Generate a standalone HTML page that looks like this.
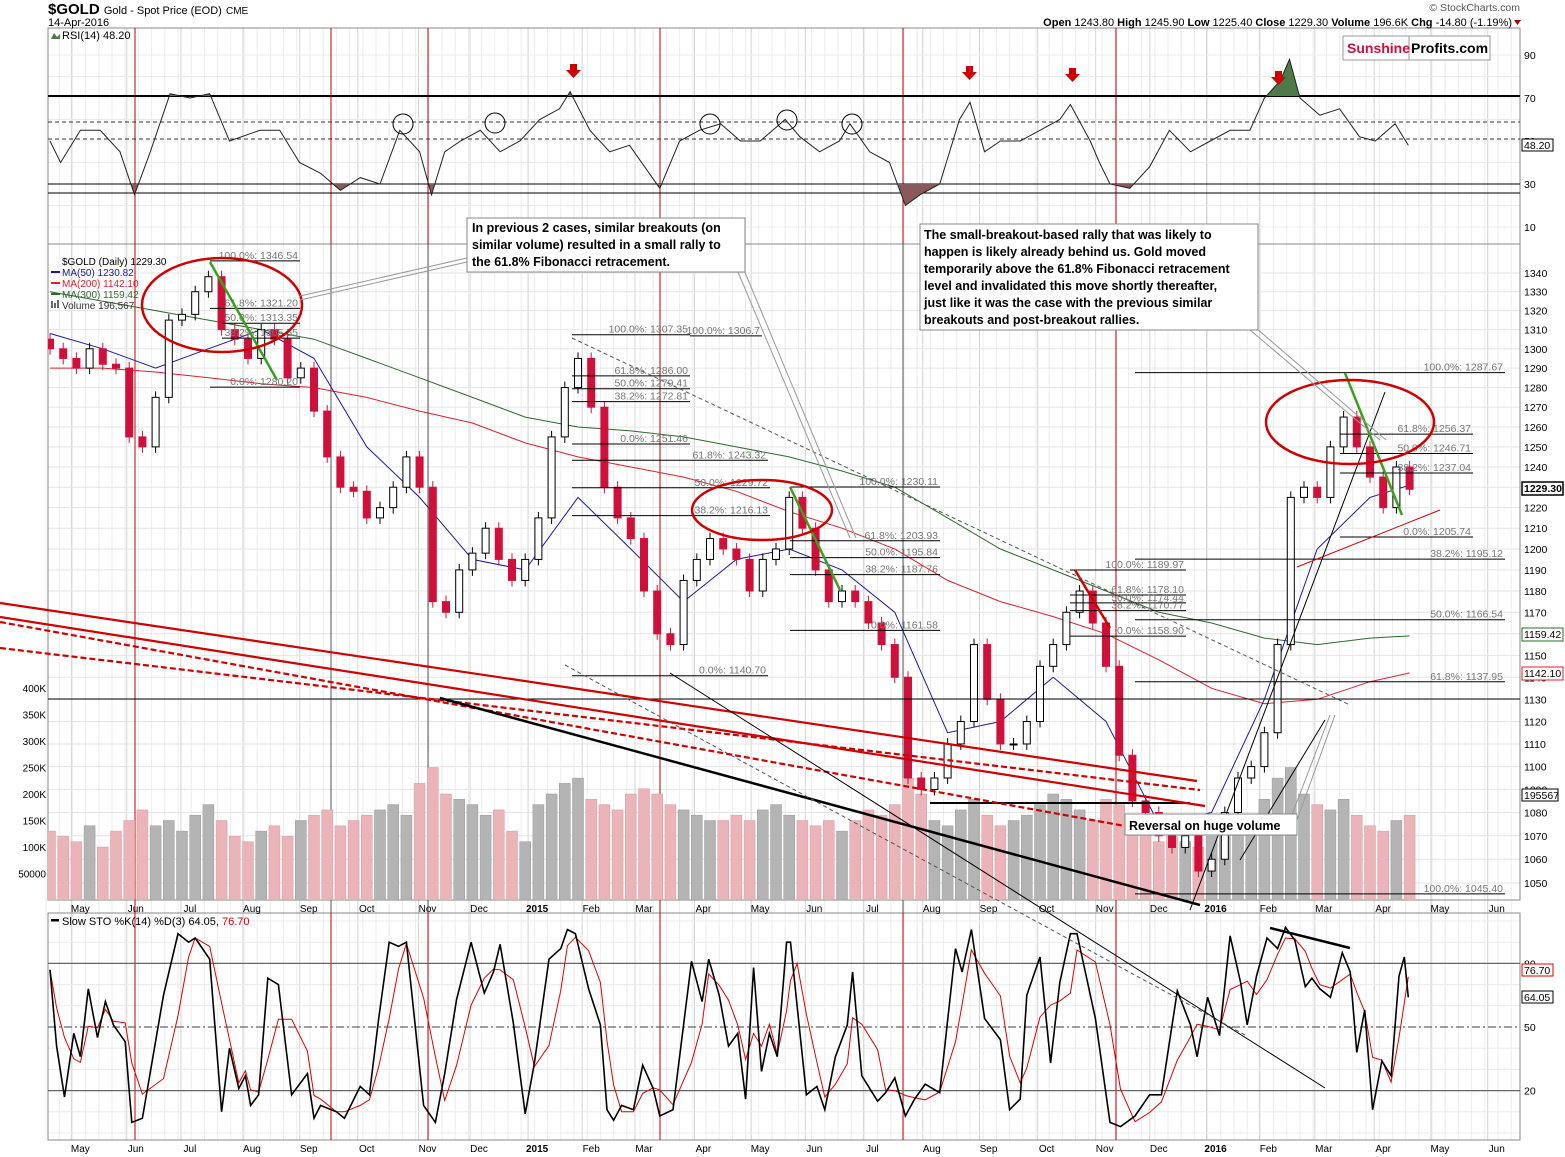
<!DOCTYPE html>
<html><head><meta charset="utf-8"><title>$GOLD chart</title>
<style>
html,body{margin:0;padding:0;background:#fff;}
svg{display:block;font-family:"Liberation Sans",Arial,sans-serif;}
.ann{font-weight:bold;font-size:12.5px;fill:#000;}
</style></head>
<body>
<svg id="chart" width="1565" height="1157" viewBox="0 0 1565 1157" xmlns="http://www.w3.org/2000/svg">
<defs>
<clipPath id="clipPrice"><rect x="48" y="244" width="1472" height="656"/></clipPath>
<clipPath id="clipSto"><rect x="48" y="913" width="1472" height="227"/></clipPath>
<clipPath id="rsiLow"><rect x="48" y="184" width="1472" height="60"/></clipPath>
<clipPath id="rsiHigh"><rect x="48" y="28" width="1472" height="68"/></clipPath>
</defs>
<g id="grid"></g>
<g id="vol" clip-path="url(#clipPrice)"></g>
<g id="price" clip-path="url(#clipPrice)"></g>
<g id="rsi"></g>
<g id="sto" clip-path="url(#clipSto)"></g>
<g id="ann"></g>
<g id="labels"></g>
</svg>
<script>
// ---------------- DATA ----------------
const weekCloses = [1300,1295,1290,1300,1292,1290,1255,1250,1275,1315,1318,1330,1338,1310,1305,1295,1310,1305,1285,1290,
1268,1245,1230,1228,1215,1220,1230,1245,1230,1175,1170,1190,1198,1210,1195,1185,1195,1215,1255,1280,
1295,1270,1230,1215,1205,1180,1160,1155,1185,1195,1205,1200,1195,1180,1195,1200,1225,1210,1190,1175,
1180,1175,1165,1155,1140,1095,1090,1095,1110,1120,1155,1130,1110,1110,1120,1145,1155,1170,1180,1165,
1145,1105,1085,1080,1070,1065,1070,1055,1060,1080,1095,1100,1115,1155,1225,1230,1225,1250,1265,1250,
1235,1220,1240,1229];
const firstOpen = 1305;
const weekVolumesK = [130,120,110,140,100,130,150,170,140,150,130,160,180,
150,120,110,130,140,120,150,160,170,140,150,160,170,
180,160,220,250,200,190,180,160,170,130,110,180,200,
220,230,190,180,170,200,210,200,180,170,160,150,150,
160,150,170,180,160,150,140,150,130,150,170,160,180,
230,200,150,140,170,190,160,140,150,160,180,200,190,
170,150,190,180,160,130,110,120,110,100,120,150,140,
160,190,230,250,200,180,170,190,160,140,130,150,160];
const ma50 = [1308,1300,1290,1300,1310,1295,1250,1225,1195,1190,1225,1200,1175,1195,1200,1190,1170,1115,1120,1140,1120,1075,1080,1130,1200,1225,1231];
const ma200 = [1290,1290,1288,1285,1282,1280,1275,1268,1262,1252,1245,1240,1235,1228,1218,1210,1200,1185,1175,1168,1160,1148,1135,1128,1130,1138,1142];
const ma300 = [1330,1325,1320,1315,1310,1305,1295,1285,1275,1265,1260,1258,1255,1250,1245,1238,1230,1215,1200,1190,1180,1170,1165,1158,1155,1158,1159];
const rsiWeeks = [0,.8,2.3,3.8,5.3,6.4,7.6,9.1,10.6,12.1,13.6,15.9,17.4,18.9,20.5,22,23.5,25,26.5,28,28.9,29.9,31.1,32.6,34.1,35.6,37.1,38.6,39.4,40.9,42.4,43.9,46.2,47.7,49.2,50.8,52.3,53.8,55.7,56.8,58.3,59.8,60.6,62.1,63.6,64.8,65.9,67.4,68.9,69.7,70.8,72,73.5,75,76.5,77.3,78.8,79.5,80.3,81.8,83.3,84.8,86.4,87.9,89.4,90.9,92,93.2,93.9,94.7,96.2,97.7,99.2,100.4,101.9,102.9];
const rsiValues = [50,40,55,55,45,25,45,72,70,72,50,55,55,40,35,27,33,30,55,45,25,45,50,55,45,50,60,65,73,55,45,48,28,50,55,58,50,50,60,52,45,50,58,45,40,20,25,30,60,68,45,50,50,55,60,67,50,40,30,28,38,55,45,50,55,55,70,78,88,70,62,65,52,50,58,48];
const stoWeeks = [0,.5,1.1,1.8,2.3,2.9,3.6,4.2,4.8,5.7,6.2,7.0,8.6,9.7,10.5,11.0,12.1,13.0,13.6,14.3,14.8,15.2,15.8,16.5,17.3,18.3,19.5,20.0,20.5,21.7,22.3,23.5,24.2,24.9,25.7,26.4,27.0,28.3,29.2,29.9,30.8,31.9,32.9,33.6,34.1,35.1,36.0,36.7,37.8,38.7,39.2,39.8,40.8,41.7,42.2,42.7,43.3,44.2,44.9,45.7,46.2,47.2,48.6,49.4,49.9,50.7,51.4,52.1,52.7,53.3,53.9,54.5,55.1,55.8,56.1,56.6,57.3,58.1,58.7,59.5,60.4,60.8,61.5,62.7,63.3,64.0,64.8,65.5,66.3,67.4,68.6,69.1,69.8,70.8,72.0,72.7,73.5,74.0,75.0,75.8,76.5,77.3,77.8,79.2,80.3,81.1,82.2,83.3,84.2,85.4,86.4,86.9,87.7,88.6,89.4,90.2,90.7,91.4,92.2,93.0,93.6,94.3,95.1,95.6,96.2,97.0,97.9,98.5,99.0,99.6,100.2,100.9,101.6,102.2,102.6,102.9];
const stoValues = [77,41,17,47,36,68,45,62,51,43,5,7,65,94,90,92,82,10,40,21,27,13,18,73,70,18,28,7,13,10,7,22,18,54,90,88,90,13,5,28,63,90,66,76,89,52,9,33,82,87,96,94,68,51,11,6,13,11,32,21,8,11,81,62,82,65,41,47,16,78,29,47,36,90,90,60,18,22,11,36,51,76,27,15,19,26,8,16,23,19,87,76,96,54,44,11,16,65,83,33,71,94,94,54,5,3,8,18,18,67,51,36,64,46,93,71,51,74,92,87,97,91,69,73,68,64,85,76,38,58,11,34,27,74,83,64];
const priceTicks = [1340,1330,1320,1310,1300,1290,1280,1270,1260,1250,1240,1220,1210,1200,1190,1180,1170,1150,1140,1130,1120,1110,1100,1090,1080,1070,1060,1050];
const volTicks = [400,350,300,250,200,150,100,50];
const rsiTicks = [90,70,50,30,10];
const stoTicks = [80,50,20];
const monthLabels = ["May","Jun","Jul","Aug","Sep","Oct","Nov","Dec","2015","Feb","Mar","Apr","May","Jun","Jul","Aug","Sep","Oct","Nov","Dec","2016","Feb","Mar","Apr","May","Jun"];
const monthWeeks = [2.3,6.5,10.6,15.3,19.6,24,28.6,32.5,36.9,41,45,49.5,53.8,57.9,62.3,66.8,71.1,75.5,79.9,84,88.3,92.3,96.5,101,105.3,109.6];
const fibLevels = [
 [1346.54,"100.0%: 1346.54",210,300,"r"],[1321.20,"61.8%: 1321.20",210,300,"r"],[1313.35,"50.0%: 1313.35",222,300,"r"],[1305.55,"38.2%: 1305.55",222,300,"r"],[1280.20,"0.0%: 1280.20",210,300,"r"],
 [1307.35,"100.0%: 1307.35",572,690,"r"],[1306.7,"100.0%: 1306.7",690,762,"r"],[1286.00,"61.8%: 1286.00",572,690,"r"],[1279.41,"50.0%: 1279.41",572,690,"r"],[1272.81,"38.2%: 1272.81",572,690,"r"],
 [1251.46,"0.0%: 1251.46",572,690,"r"],[1243.32,"61.8%: 1243.32",572,768,"r"],[1229.72,"50.0%: 1229.72",572,770,"r"],[1216.13,"38.2%: 1216.13",572,770,"r"],[1140.70,"0.0%: 1140.70",572,768,"r"],
 [1230.11,"100.0%: 1230.11",790,940,"r"],[1203.93,"61.8%: 1203.93",790,940,"r"],[1195.84,"50.0%: 1195.84",790,940,"r"],[1187.76,"38.2%: 1187.76",790,940,"r"],[1161.58,"0.0%: 1161.58",790,940,"r"],
 [1189.97,"100.0%: 1189.97",1070,1186,"r"],[1178.10,"61.8%: 1178.10",1070,1186,"r"],[1174.44,"50.0%: 1174.44",1070,1186,"r"],[1170.77,"38.2%: 1170.77",1070,1186,"r"],[1158.90,"0.0%: 1158.90",1070,1186,"r"],
 [1287.67,"100.0%: 1287.67",1135,1505,"r"],[1256.37,"61.8%: 1256.37",1340,1473,"r"],[1246.71,"50.0%: 1246.71",1340,1473,"r"],[1237.04,"38.2%: 1237.04",1340,1473,"r"],[1205.74,"0.0%: 1205.74",1340,1473,"r"],
 [1195.12,"38.2%: 1195.12",1135,1505,"r"],[1166.54,"50.0%: 1166.54",1135,1505,"r"],[1137.95,"61.8%: 1137.95",1135,1505,"r"],[1045.40,"100.0%: 1045.40",1135,1505,"r"]
];

// ---------------- SCALES ----------------
const NS="http://www.w3.org/2000/svg";
const xw = w => 50 + w*13.2;
const yp = p => 273 - 2501*(Math.log(p)-Math.log(1340));
const yr = v => 141 - (v-50)*2.15;
const ys = v => 1027 - (v-50)*2.12;
const yv = k => 900 - k*0.53;
function mk(parent,tag,attrs,text){const e=document.createElementNS(NS,tag);for(const k in attrs)e.setAttribute(k,attrs[k]);if(text!==undefined)e.textContent=text;document.getElementById(parent).appendChild(e);return e;}

// ---------------- GRID & FRAMES ----------------
for(let w=0; w<112; w++){
  const x=xw(w)-4;
  mk('grid','line',{x1:x,y1:28,x2:x,y2:1140,stroke:'#ececec','stroke-width':1});
}
monthWeeks.forEach(w=>{const x=xw(w)-9; mk('grid','line',{x1:x,y1:28,x2:x,y2:1140,stroke:'#d4d4d4','stroke-width':1});});
for(let p=1050;p<=1340;p+=10){const y=yp(p);mk('grid','line',{x1:48,y1:y,x2:1520,y2:y,stroke:'#e6e6e6'});}
for(let v=10;v<=90;v+=10){mk('grid','line',{x1:48,y1:yr(v),x2:1520,y2:yr(v),stroke:'#ececec'});}
for(let v=0;v<=100;v+=10){mk('grid','line',{x1:48,y1:ys(v),x2:1520,y2:ys(v),stroke:'#ececec'});}
[[28,216],[244,656],[913,227]].forEach((r,i)=>{
  const f=mk('grid','rect',{x:48,y:r[0],width:1472,height:r[1],fill:'none',stroke:'#888','stroke-width':1});
  
  
});
// event vertical lines
[[135,'#c00000'],[331,'#555'],[428,'#555'],[660,'#c00000'],[903,'#555'],[1116,'#c00000']].forEach(v=>{
  const l=mk('grid','line',{x1:v[0],y1:28,x2:v[0],y2:1140,stroke:v[1],'stroke-width':1});
  
  
});
[331,428,903].forEach(x=>{mk('grid','line',{x1:x,y1:28,x2:x,y2:244,stroke:'#c00000'});mk('grid','line',{x1:x,y1:913,x2:x,y2:1140,stroke:'#c00000'});});

// ---------------- VOLUME ----------------
weekVolumesK.forEach((k,i)=>{
  const prev = i===0?firstOpen:weekCloses[i-1];
  const up = weekCloses[i]>=prev;
  const b=mk('vol','rect',{x:xw(i)-5.5,y:yv(k),width:11,height:900-yv(k),fill:up?'#b4b4b4':'#eab4b8',stroke:up?'#999':'#dc9aa0','stroke-width':0.5});
  
  
});

// ---------------- MOVING AVERAGES ----------------
function maPath(arr,color,name){
  const d=arr.map((v,k)=>(k?'L':'M')+xw(Math.min(k*4,103)).toFixed(1)+','+yp(v).toFixed(1)).join(' ');
  const p=mk('price','path',{d:d,fill:'none',stroke:color,'stroke-width':1});
  
  
}
maPath(ma300,'#2d6a2d','ma300-line');
maPath(ma200,'#e0202a','ma200-line');
maPath(ma50,'#1a1aa0','ma50-line');

// ---------------- CANDLES ----------------
weekCloses.forEach((c,i)=>{
  const o = i===0?firstOpen:weekCloses[i-1];
  const x=xw(i), y1=yp(Math.max(o,c)), y2=yp(Math.min(o,c));
  const up=c>=o;
  const col= up?'#000':'#d0103a';
  const w=mk('price','line',{x1:x,y1:y1-6,x2:x,y2:y2+6,stroke:col,'stroke-width':1});
  
  
  const b=mk('price','rect',{x:x-3.5,y:y1,width:7,height:Math.max(1,y2-y1),fill:up?'#fff':'#d0103a',stroke:col,'stroke-width':1});
  
  
});

// ---------------- RSI ----------------
[[96,2,'#000',''],[122,1,'#333','4,3'],[139,1,'#333','4,3'],[184,1,'#000',''],[193,1,'#000','']].forEach(l=>{
  mk('rsi','line',{x1:48,y1:l[0],x2:1520,y2:l[0],stroke:l[2],'stroke-width':l[1],'stroke-dasharray':l[3]});
});
const rsiD=rsiWeeks.map((w,i)=>(i?'L':'M')+xw(w).toFixed(1)+','+yr(rsiValues[i]).toFixed(1)).join(' ');
const rsiLowFill=mk('rsi','path',{d:rsiD+' L'+xw(102.9)+',184 L50,184 Z',fill:'#8a5a5a','clip-path':'url(#rsiLow)'});


const rsiHighFill=mk('rsi','path',{d:rsiD+' L'+xw(102.9)+',96 L50,96 Z',fill:'#4e7a4a','clip-path':'url(#rsiHigh)'});


const rsiLine=mk('rsi','path',{d:rsiD,fill:'none',stroke:'#222','stroke-width':1});



// ---------------- STOCHASTIC ----------------
[[80,''],[20,''],[50,'8,3,2,3']].forEach(l=>{mk('sto','line',{x1:48,y1:ys(l[0]),x2:1520,y2:ys(l[0]),stroke:'#666','stroke-width':1.2,'stroke-dasharray':l[1]});});
const dVals=stoValues.map((v,i)=>{const a=stoValues.slice(Math.max(0,i-2),i+1);return a.reduce((s,x)=>s+x,0)/a.length;});
const dLine=mk('sto','path',{d:stoWeeks.map((w,i)=>(i?'L':'M')+xw(w).toFixed(1)+','+ys(dVals[i]).toFixed(1)).join(' '),fill:'none',stroke:'#e00000','stroke-width':1});


const kLine=mk('sto','path',{d:stoWeeks.map((w,i)=>(i?'L':'M')+xw(w).toFixed(1)+','+ys(stoValues[i]).toFixed(1)).join(' '),fill:'none',stroke:'#000','stroke-width':1.6});



// ---------------- FIB LEVELS ----------------
fibLevels.forEach(f=>{
  const y=yp(f[0]);
  const l=mk('ann','line',{x1:f[2],y1:y,x2:f[3],y2:y,stroke:'#000','stroke-width':1});
  
  
  const t=mk('ann','text',{x:f[3]-2,y:y-2,'font-size':10.5,fill:'#777','text-anchor':'end'},f[1]);
  
  
});

// ---------------- AXIS LABELS ----------------
priceTicks.forEach(p=>{mk('labels','text',{x:1524,y:yp(p)+4,'font-size':10.5,fill:'#000'},p);});
volTicks.forEach(k=>{mk('labels','text',{x:46,y:yv(k)+4,'font-size':10,fill:'#000','text-anchor':'end'},k===50?'50000':k+'K');});
rsiTicks.forEach(v=>{mk('labels','text',{x:1524,y:yr(v)+4,'font-size':10.5,fill:'#000'},v);});
stoTicks.forEach(v=>{mk('labels','text',{x:1524,y:ys(v)+4,'font-size':10.5,fill:'#000'},v);});
monthLabels.forEach((m,i)=>{
  const x=xw(monthWeeks[i]);
  [908,1148].forEach(y=>{
    const t=mk('labels','text',{x:x,y:y+4,'font-size':10,fill:'#000','text-anchor':'middle','font-weight':/^20/.test(m)?'bold':'normal'},m);
    
    
  });
});
</script>

<!-- static annotations -->
<svg width="1565" height="1157" viewBox="0 0 1565 1157" style="position:absolute;left:0;top:0" xmlns="http://www.w3.org/2000/svg">
 <g font-family="Liberation Sans, Arial, sans-serif">
  <!-- header -->
  <text x="48" y="14" font-size="15" font-weight="bold">$GOLD <tspan font-size="11" font-weight="normal">Gold - Spot Price (EOD)</tspan> <tspan font-size="10" font-weight="normal">CME</tspan></text>
  <text x="48" y="26" font-size="11">14-Apr-2016</text>
  <text x="1520" y="11" font-size="10.5" fill="#555" text-anchor="end">© StockCharts.com</text>
  <text x="1512" y="26" font-size="11" text-anchor="end"><tspan font-weight="bold">Open</tspan> 1243.80 <tspan font-weight="bold">High</tspan> 1245.90 <tspan font-weight="bold">Low</tspan> 1225.40 <tspan font-weight="bold">Close</tspan> 1229.30 <tspan font-weight="bold">Volume</tspan> 196.6K <tspan font-weight="bold">Chg</tspan> -14.80 (-1.19%)</text>
  <path d="M1514,20 l7,0 l-3.5,5 z" fill="#a00"/>
  <text x="62" y="39" font-size="11">RSI(14) 48.20</text>
  <path d="M51,39 l3,-6 l3,4 l3,-3 v5 z" fill="#4e7a4a"/>
  <rect x="1343" y="36" width="147" height="24" fill="#fff" stroke="#999"/>
  <line x1="1409" y1="36" x2="1409" y2="60" stroke="#999"/>
  <text x="1347" y="53" font-size="14" font-weight="bold" fill="#d0103a">Sunshine</text>
  <text x="1411" y="53" font-size="14" font-weight="bold">Profits.com</text>
  <!-- RSI arrows -->
  <g fill="#d00000">
   <path d="M570,64 h7 v6 h4 l-7.5,8 l-7.5,-8 h4 z"/>
   <path d="M966,66 h7 v6 h4 l-7.5,8 l-7.5,-8 h4 z"/>
   <path d="M1069,68 h7 v6 h4 l-7.5,8 l-7.5,-8 h4 z"/>
   <path d="M1275,71 h7 v6 h4 l-7.5,8 l-7.5,-8 h4 z"/>
  </g>
  <g fill="none" stroke="#000" stroke-width="1">
   <circle cx="403" cy="124" r="10"/><circle cx="495" cy="123" r="10"/><circle cx="710" cy="124" r="10"/><circle cx="787" cy="120" r="10"/><circle cx="852" cy="124" r="10"/>
  </g>
  <!-- right RSI tag -->
  <rect x="1522" y="139" width="31" height="12" fill="#fff" stroke="#000"/><text x="1524" y="149" font-size="10.5">48.20</text>
  <!-- price legend -->
  <g font-size="10">
   <text x="62" y="265">$GOLD (Daily) 1229.30</text>
   <text x="62" y="276" fill="#1a1aa0">MA(50) 1230.82</text>
   <text x="62" y="287" fill="#e0202a">MA(200) 1142.10</text>
   <text x="62" y="298" fill="#2d6a2d">MA(300) 1159.42</text>
   <text x="62" y="309" fill="#333">Volume 196,567</text>
   <line x1="51" y1="272" x2="60" y2="272" stroke="#1a1aa0" stroke-width="2"/>
   <line x1="51" y1="283" x2="60" y2="283" stroke="#e0202a" stroke-width="2"/>
   <line x1="51" y1="294" x2="60" y2="294" stroke="#2d6a2d" stroke-width="2"/>
   <rect x="51" y="301" width="2" height="7" fill="#666"/><rect x="54" y="303" width="2" height="5" fill="#666"/><rect x="57" y="300" width="2" height="8" fill="#666"/>
  </g>
  <!-- horizontal 1130 and lines -->
  <line x1="48" y1="699" x2="1520" y2="699" stroke="#000" stroke-width="1"/>
  <line x1="930" y1="803" x2="1190" y2="803" stroke="#000" stroke-width="2"/>
  <!-- red descending trend lines -->
  <g stroke="#d00000" stroke-width="2.2" fill="none">
   <line x1="0" y1="603" x2="1197" y2="781"/>
   <line x1="0" y1="617" x2="1205" y2="806"/>
   <line x1="0" y1="648" x2="1200" y2="790" stroke-dasharray="6,3"/>
   <line x1="0" y1="622" x2="1125" y2="826" stroke-dasharray="6,3"/>
   <line x1="1297" y1="567" x2="1440" y2="510" stroke-width="1"/>
   <line x1="1075" y1="570" x2="1110" y2="628" stroke-width="2.5"/>
  </g>
  <!-- black trend lines -->
  <line x1="440" y1="698" x2="1200" y2="905" stroke="#000" stroke-width="2.5"/>
  <line x1="1270" y1="928" x2="1350" y2="948" stroke="#000" stroke-width="2.5"/>
  <line x1="670" y1="673" x2="1325" y2="1088" stroke="#000" stroke-width="1"/>
  <line x1="565" y1="665" x2="1245" y2="1035" stroke="#555" stroke-width="1" stroke-dasharray="4,3"/>
  <line x1="572" y1="338" x2="1350" y2="705" stroke="#555" stroke-width="1" stroke-dasharray="4,3"/>
  <line x1="1190" y1="910" x2="1385" y2="392" stroke="#000" stroke-width="1"/>
  <line x1="1240" y1="860" x2="1325" y2="720" stroke="#000" stroke-width="1"/>
  <!-- green lines -->
  <g stroke="#3aa020" stroke-width="2.5">
   <line x1="210" y1="262" x2="277" y2="380"/>
   <line x1="790" y1="487" x2="840" y2="590"/>
   <line x1="1345" y1="373" x2="1402" y2="515"/>
  </g>
  <!-- ellipses -->
  <g fill="none" stroke="#d00000" stroke-width="2.5">
   <ellipse cx="222" cy="305" rx="80" ry="47"/>
   <ellipse cx="762" cy="510" rx="70" ry="30"/>
   <ellipse cx="1350" cy="422" rx="84" ry="42"/>
  </g>
  <!-- callout pointers -->
  <g stroke="#999" stroke-width="1" fill="none">
   <path d="M300,300 L467,262 M300,296 L467,258"/>
   <path d="M738,272 L850,538 M744,270 L856,538"/>
   <path d="M1250,330 L1380,440 M1256,328 L1386,440"/>
   <path d="M1297,820 L1335,715 M1290,820 L1330,715"/>
  </g>
  <!-- text boxes -->
  <g>
   <rect x="467" y="218" width="278" height="54" fill="#fff" stroke="#888"/>
   <text class="ann" x="472" y="232">In previous 2 cases, similar breakouts (on</text>
   <text class="ann" x="472" y="249">similar volume) resulted in a small rally to</text>
   <text class="ann" x="472" y="266">the 61.8% Fibonacci retracement.</text>
  </g>
  <g>
   <rect x="920" y="224" width="338" height="106" fill="#fff" stroke="#888"/>
   <text class="ann" x="924" y="239">The small-breakout-based rally that was likely to</text>
   <text class="ann" x="924" y="256">happen is likely already behind us. Gold moved</text>
   <text class="ann" x="924" y="273">temporarily above the 61.8% Fibonacci retracement</text>
   <text class="ann" x="924" y="290">level and invalidated this move shortly thereafter,</text>
   <text class="ann" x="924" y="307">just like it was the case with the previous similar</text>
   <text class="ann" x="924" y="324">breakouts and post-breakout rallies.</text>
  </g>
  <g>
   <rect x="1125" y="814" width="172" height="21" fill="#fff" stroke="#888"/>
   <text class="ann" x="1129" y="830">Reversal on huge volume</text>
  </g>
  <!-- value tags -->
  <g font-size="10.5">
   <rect x="1522" y="482" width="41" height="13" fill="#fff" stroke="#000" stroke-width="1.5"/><text x="1524" y="492" font-weight="bold">1229.30</text>
   <rect x="1522" y="628" width="41" height="13" fill="#fff" stroke="#2d6a2d"/><text x="1524" y="638">1159.42</text>
   <rect x="1522" y="667" width="41" height="13" fill="#fff" stroke="#e0202a"/><text x="1524" y="677">1142.10</text>
   <rect x="1522" y="789" width="36" height="12" fill="#fff" stroke="#000"/><text x="1524" y="799">195567</text>
   <rect x="1522" y="964" width="31" height="12" fill="#fff" stroke="#e00000"/><text x="1524" y="974">76.70</text>
   <rect x="1522" y="991" width="31" height="12" fill="#fff" stroke="#000"/><text x="1524" y="1001">64.05</text>
  </g>
  <text x="62" y="925" font-size="11">Slow STO %K(14) %D(3) 64.05, <tspan fill="#e00000">76.70</tspan></text>
  <rect x="51" y="919" width="8" height="2.5" fill="#000"/>
 </g>
</svg>
</body></html>
